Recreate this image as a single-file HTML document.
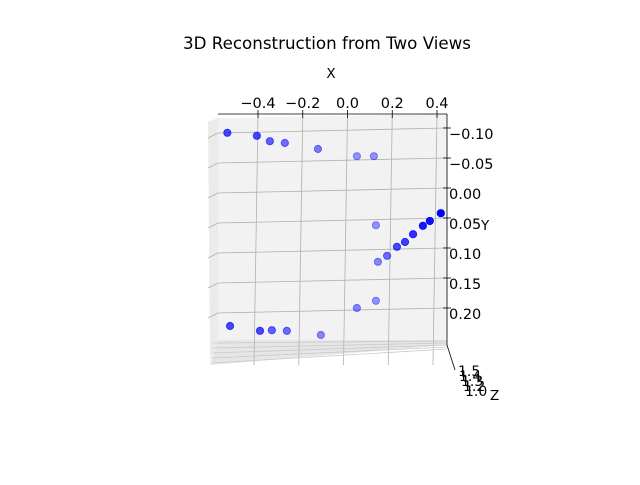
<!DOCTYPE html>
<html><head><meta charset="utf-8"><style>
body{margin:0;background:#fff}
svg text{font-family:"DejaVu Sans","Liberation Sans",sans-serif;fill:#000}
</style></head><body>
<svg id="chart" width="640" height="480" xmlns="http://www.w3.org/2000/svg">
<text x="327" y="49" font-size="16.7" text-anchor="middle">3D Reconstruction from Two Views</text>
<g>
<polygon points="208,122 218,118 218,340 210,362" fill="#ebebeb"/>
<polygon points="218,340 447,340 447,345 210,365" fill="#e6e6e6"/>
<polygon points="218,118 447,114 447,340 218,340" fill="#f2f2f2"/>
</g>
<g id="grid"></g>
<g id="points"></g>
<line x1="218" y1="114" x2="447" y2="114" stroke="#000" stroke-width="0.8"/>
<line x1="447" y1="114" x2="447" y2="345" stroke="#000" stroke-width="0.8"/>
<g id="axes"></g>
<text x="331" y="78" font-size="13.5" text-anchor="middle">X</text>
<text x="481" y="230" font-size="13.5">Y</text>
<text x="490" y="400" font-size="13.5">Z</text>
<g font-size="14">
<line x1="447" y1="345" x2="455" y2="370" stroke="#000" stroke-width="0.8"/>
<text x="458" y="376">1.5</text><text x="459" y="381">1.4</text><text x="461" y="386">1.3</text><text x="463" y="391">1.2</text><text x="465" y="396">1.0</text>
</g>
</svg>
<script>
const xTicks=[-0.4,-0.2,0.0,0.2,0.4];
const xTickLabels=["\u22120.4","\u22120.2","0.0","0.2","0.4"];
const yTicks=[-0.10,-0.05,0.00,0.05,0.10,0.15,0.20];
const yTickLabels=["\u22120.10","\u22120.05","0.00","0.05","0.10","0.15","0.20"];
const xs=[-0.537,-0.405,-0.347,-0.280,-0.132,0.042,0.118,0.417,0.368,0.337,0.293,0.257,0.221,0.177,0.136,0.127,0.127,0.042,-0.525,-0.391,-0.338,-0.271,-0.119];
const ys=[-0.102,-0.097,-0.088,-0.085,-0.075,-0.063,-0.063,0.032,0.045,0.053,0.067,0.080,0.088,0.103,0.113,0.052,0.178,0.190,0.220,0.228,0.227,0.228,0.235];
const alphas=[0.7,0.7,0.6,0.55,0.5,0.4,0.4,1,0.95,0.9,0.8,0.75,0.7,0.55,0.45,0.4,0.4,0.45,0.7,0.7,0.6,0.55,0.45];
const X=v=>347.5+v*223.75, Y=v=>194+v*600;
const NS="http://www.w3.org/2000/svg";
const mk=(t,a,p)=>{const e=document.createElementNS(NS,t);for(const k in a)e.setAttribute(k,a[k]);p.appendChild(e);return e;};
const grid=document.getElementById('grid'),axes=document.getElementById('axes'),pts=document.getElementById('points');
xTicks.forEach((v,i)=>{
 const g=mk('line',{x1:X(v),y1:116,x2:X(v)-4,y2:365,stroke:'#b0b0b0','stroke-width':0.8},grid);
 
 
 const t=mk('line',{x1:X(v),y1:110,x2:X(v),y2:118,stroke:'#000','stroke-width':0.8},axes);
 
 
 const l=mk('text',{x:X(v),y:108,'font-size':14.5,'text-anchor':'middle'},axes);
 l.textContent=xTickLabels[i];
 
 
});
yTicks.forEach((v,i)=>{
 const g=mk('line',{x1:208,y1:Y(v)+4,x2:218,y2:Y(v)-1,stroke:'#b0b0b0','stroke-width':0.8},grid);
 
 
 const g2=mk('line',{x1:218,y1:Y(v)-1,x2:447,y2:Y(v)-6,stroke:'#b0b0b0','stroke-width':0.8},grid);
 
 
 const t=mk('line',{x1:443,y1:Y(v)-6,x2:451,y2:Y(v)-6,stroke:'#000','stroke-width':0.8},axes);
 
 
 const l=mk('text',{x:449,y:Y(v)+5,'font-size':14.5},axes);
 l.textContent=yTickLabels[i];
 
 
});
for(let k=0;k<5;k++){const b=mk('line',{x1:212,y1:343+k*5,x2:447,y2:341+k*2,stroke:'#c8c8c8','stroke-width':0.8},grid);
 
 }
xs.forEach((v,i)=>{
 const c=mk('circle',{cx:X(v),cy:Y(ys[i]),r:3.6,fill:'#0000ff','fill-opacity':alphas[i],stroke:'#0000ff','stroke-opacity':alphas[i]},pts);
 
 
});
</script>
</body></html>
